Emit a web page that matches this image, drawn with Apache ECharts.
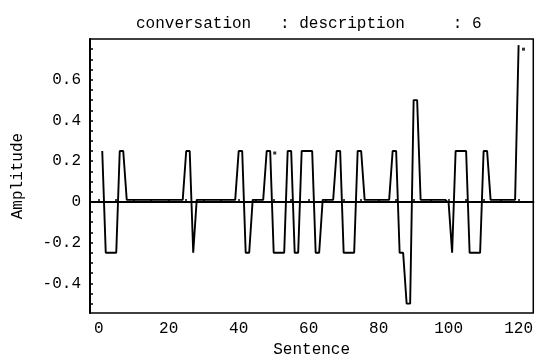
<!DOCTYPE html>
<html>
<head>
<meta charset="utf-8">
<script src="https://cdn.jsdelivr.net/npm/echarts@6/dist/echarts.min.js"></script>
<style>html,body{margin:0;padding:0;background:#fff}#c{width:536px;height:363px}</style>
</head>
<body>
<div id="c"></div>
<script>
// Data
const titleText = 'conversation   : description     : 6';
const xName = 'Sentence';
const yName = 'Amplitude';
const amplitude = [
  0.25,
  -0.25, -0.25, -0.25, -0.25,
  0.25, 0.25,
  0.01, 0.01, 0.01, 0.01, 0.01, 0.01, 0.01, 0.01, 0.01, 0.01, 0.01, 0.01, 0.01, 0.01, 0.01, 0.01, 0.01,
  0.25, 0.25,
  -0.25,
  0.01, 0.01, 0.01, 0.01, 0.01, 0.01, 0.01, 0.01, 0.01, 0.01, 0.01, 0.01,
  0.25, 0.25,
  -0.25, -0.25,
  0.01, 0.01, 0.01, 0.01,
  0.25, 0.25,
  -0.25, -0.25, -0.25, -0.25,
  0.25, 0.25,
  -0.25, -0.25,
  0.25, 0.25, 0.25, 0.25,
  -0.25, -0.25,
  0.01, 0.01, 0.01, 0.01,
  0.25, 0.25,
  -0.25, -0.25, -0.25, -0.25,
  0.25, 0.25,
  0.01, 0.01, 0.01, 0.01, 0.01, 0.01, 0.01, 0.01,
  0.25, 0.25,
  -0.25, -0.25,
  -0.5, -0.5,
  0.5, 0.5,
  0.01, 0.01, 0.01, 0.01, 0.01, 0.01, 0.01, 0.01,
  -0.005,
  -0.25,
  0.25, 0.25, 0.25, 0.25,
  -0.25, -0.25, -0.25, -0.25,
  0.25, 0.25,
  0.01, 0.01, 0.01, 0.01, 0.01, 0.01, 0.01, 0.01,
  0.77
];
const sentenceStart = 1;
const dotPoints = [[50.3, 0.24], [121.4, 0.75]];
const xTickLabels = [0, 20, 40, 60, 80, 100, 120];
const xMinorTicks = [0,5,10,15,20,25,30,35,40,45,50,55,60,65,70,75,80,85,90,95,100,105,110,115,120];
const yTickLabels = [-0.4, -0.2, 0, 0.2, 0.4, 0.6];
const yMinorTicks = [-0.5,-0.45,-0.4,-0.35,-0.3,-0.25,-0.2,-0.15,-0.1,-0.05,0,0.05,0.1,0.15,0.2,0.25,0.3,0.35,0.4,0.45,0.5,0.55,0.6,0.65,0.7,0.75];

const lineData = amplitude.map((v, i) => [i + sentenceStart, v]);
const FONT = '"Liberation Mono", "Courier New", monospace';

const chart = echarts.init(document.getElementById('c'), null, {renderer: 'canvas'});
chart.setOption({
  animation: false,
  backgroundColor: '#fff',
  title: {
    text: titleText,
    left: 131,
    top: 11,
    textStyle: {fontFamily: FONT, fontSize: 16, fontWeight: 'normal', color: '#000'}
  },
  grid: {
    left: 90, right: 1, top: 39, bottom: 48,
    show: true, borderColor: '#000', borderWidth: 1.5
  },
  xAxis: {
    type: 'value',
    min: -2.5, max: 124.2,
    name: xName,
    nameLocation: 'middle',
    nameGap: 27,
    nameTextStyle: {fontFamily: FONT, fontSize: 16, color: '#000', verticalAlign: 'top'},
    axisLine: {show: true, lineStyle: {color: '#000', width: 2}},
    axisTick: {show: true, inside: true, length: 3, customValues: xMinorTicks, lineStyle: {color: '#000', width: 1.5}},
    axisLabel: {customValues: xTickLabels, fontFamily: FONT, fontSize: 16, color: '#000', margin: 8},
    splitLine: {show: false}
  },
  yAxis: {
    type: 'value',
    min: -0.5463, max: 0.8,
    name: yName,
    nameLocation: 'middle',
    nameGap: 64,
    nameTextStyle: {fontFamily: FONT, fontSize: 16, color: '#000'},
    axisLine: {show: true, onZero: false, lineStyle: {color: '#000', width: 2}},
    axisTick: {show: true, inside: true, length: 3, customValues: yMinorTicks, lineStyle: {color: '#000', width: 1.5}},
    axisLabel: {
      customValues: yTickLabels, fontFamily: FONT, fontSize: 16, color: '#000', margin: 9,
      formatter: v => (Math.abs(v) < 1e-9 ? '0' : String(Math.round(v * 10) / 10))
    },
    splitLine: {show: false}
  },
  series: [
    {
      type: 'line',
      data: lineData,
      symbol: 'none',
      lineStyle: {color: '#000', width: 1.9},
      markLine: {
        silent: true,
        symbol: 'none',
        label: {show: false},
        lineStyle: {color: '#000', width: 1.5, type: 'solid'},
        data: [{yAxis: 0}]
      }
    },
    {
      type: 'scatter',
      data: dotPoints,
      symbol: 'rect',
      symbolSize: 3,
      itemStyle: {color: '#000'}
    }
  ]
});
</script>
</body>
</html>
